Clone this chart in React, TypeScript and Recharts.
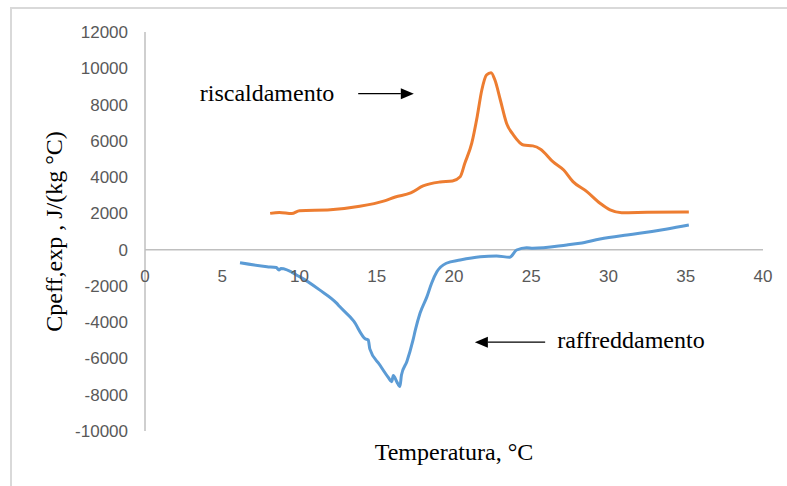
import { LineChart, Line, XAxis, YAxis, ReferenceLine, ReferenceDot } from 'recharts';

// riscaldamento (heating) curve
const heatingTemp = [
  8.1, 8.7, 9.5, 10.0, 12.0, 13.9, 15.5, 16.2, 17.2, 18.0, 19.1, 19.9, 20.4, 20.7, 21.15, 21.5, 21.8, 22.1,
  22.4, 22.65, 23.0, 23.4, 23.85, 24.5, 25.1, 25.6, 26.4, 27.1, 27.7, 28.6, 29.45, 30.1, 30.85, 32.5, 35.2,
];
const heatingCp = [
  2000, 2050, 1990, 2150, 2200, 2390, 2690, 2900, 3130, 3510, 3730, 3790, 4020, 4760, 5870, 7330, 8800, 9630,
  9760, 9350, 8250, 6970, 6320, 5770, 5720, 5540, 4850, 4390, 3750, 3200, 2560, 2190, 2040, 2060, 2080,
];

// raffreddamento (cooling) curve
const coolingTemp = [
  6.15, 7.9, 8.5, 8.67, 8.8, 10.0, 11.3, 12.4, 12.6, 13.5, 14.25, 14.45, 14.55, 15.2, 15.75, 15.97, 16.07,
  16.3, 16.5, 16.6, 16.95, 17.35, 17.5, 17.8, 18.25, 18.55, 18.9, 19.5, 20.4, 21.7, 22.75, 23.6, 24.05, 24.7,
  25.1, 27.3, 28.15, 29.45, 31.2, 32.0, 33.8, 35.2,
];
const coolingCp = [
  -720, -940, -990, -1120, -1040, -1490, -2220, -2950, -3140, -3930, -4910, -4980, -5470, -6360, -7050, -7280,
  -6940, -7290, -7550, -6910, -6170, -4980, -4430, -3510, -2590, -1850, -1210, -750, -570, -390, -350, -420,
  -20, 110, 80, 260, 350, 590, 810, 900, 1140, 1360,
];

const xTicks = [0, 5, 10, 15, 20, 25, 30, 35, 40];
const yTicks = [-10000, -8000, -6000, -4000, -2000, 0, 2000, 4000, 6000, 8000, 10000, 12000];

const heating = heatingTemp.map((t, i) => ({ t, cp: heatingCp[i] }));
const cooling = coolingTemp.map((t, i) => ({ t, cp: coolingCp[i] }));

const W = 787;
const H = 486;
const MARGIN = { top: 32, right: 24, bottom: 0, left: 65 };
const X_AXIS_H = 55;
const Y_MIN = -10000;
const Y_MAX = 12000;
const PLOT_H = H - MARGIN.top - MARGIN.bottom - X_AXIS_H;
const ZERO_Y = MARGIN.top + (PLOT_H * Y_MAX) / (Y_MAX - Y_MIN);

const serif = '"Liberation Serif", "Times New Roman", serif';
const sans = '"Liberation Sans", Arial, sans-serif';
const tickColor = '#595959';
const axisColor = '#bfbfbf';

const XTick = (props: any) => {
  const { x, payload } = props;
  return (
    <text x={x} y={ZERO_Y + 27} textAnchor="middle" dominantBaseline="central" fill={tickColor} fontSize={17} fontFamily={sans}>
      {payload.value}
    </text>
  );
};

const Arrow = (props: any) => {
  const { x1, y1, x2, y2 } = props;
  if (x1 == null || x2 == null) return null;
  const dir = x2 > x1 ? 1 : -1;
  const head = 13;
  return (
    <g>
      <line x1={x1} y1={y1} x2={x2 - dir * head} y2={y2} stroke="#000" strokeWidth={1.2} />
      <polygon points={`${x2},${y2} ${x2 - dir * head},${y2 - 5.5} ${x2 - dir * head},${y2 + 5.5}`} fill="#000" />
    </g>
  );
};

const noteStyle = { fontFamily: serif, fontSize: 24, fill: '#000' };

export default function App() {
  return (
    <div style={{ position: 'absolute', left: 0, top: 0, width: W, height: H, background: '#fff', overflow: 'hidden' }}>
      <div
        style={{
          position: 'absolute',
          left: 10,
          top: 7,
          width: W,
          height: H,
          borderLeft: '2px solid #d9d9d9',
          borderTop: '2px solid #d9d9d9',
        }}
      />
      <LineChart width={W} height={H} margin={MARGIN} style={{ position: 'absolute', left: 0, top: 0 }}>
        <XAxis
          dataKey="t"
          type="number"
          domain={[0, 40]}
          ticks={xTicks}
          axisLine={false}
          tickLine={false}
          tick={<XTick />}
          height={X_AXIS_H}
          allowDataOverflow
          label={{
            value: 'Temperatura, °C',
            position: 'insideBottom',
            offset: 26,
            style: { fontFamily: serif, fontSize: 24, fill: '#000' },
          }}
        />
        <YAxis
          dataKey="cp"
          type="number"
          domain={[Y_MIN, Y_MAX]}
          ticks={yTicks}
          width={80}
          axisLine={{ stroke: axisColor, strokeWidth: 1.5 }}
          tickLine={false}
          tickMargin={11}
          tick={{ fill: tickColor, fontSize: 17, fontFamily: sans }}
          label={{
            value: 'Cpeff,exp , J/(kg °C)',
            angle: -90,
            position: 'insideLeft',
            offset: -12,
            style: { fontFamily: serif, fontSize: 24, fill: '#000', textAnchor: 'middle' },
          }}
        />
        <ReferenceLine y={0} stroke={axisColor} strokeWidth={1.5} />
        <Line
          data={heating}
          dataKey="cp"
          type="monotone"
          stroke="#ED7D31"
          strokeWidth={3}
          dot={false}
          isAnimationActive={false}
        />
        <Line
          data={cooling}
          dataKey="cp"
          type="monotone"
          stroke="#5B9BD5"
          strokeWidth={3}
          dot={false}
          isAnimationActive={false}
        />
        <ReferenceLine segment={[{ x: 13.8, y: 8600 }, { x: 17.4, y: 8600 }]} shape={<Arrow />} ifOverflow="visible" />
        <ReferenceLine segment={[{ x: 25.9, y: -5100 }, { x: 21.35, y: -5100 }]} shape={<Arrow />} ifOverflow="visible" />
        <ReferenceDot x={7.9} y={8650} r={0} fill="none" stroke="none" ifOverflow="visible" label={{ value: 'riscaldamento', position: 'center', style: noteStyle }} />
        <ReferenceDot x={31.45} y={-4950} r={0} fill="none" stroke="none" ifOverflow="visible" label={{ value: 'raffreddamento', position: 'center', style: noteStyle }} />
      </LineChart>
    </div>
  );
}
